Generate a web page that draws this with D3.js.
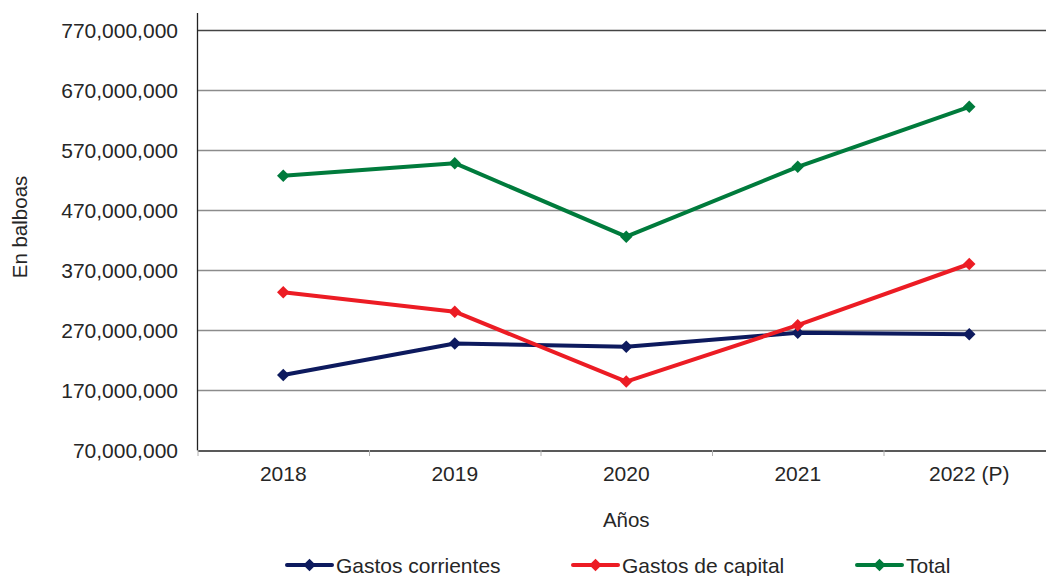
<!DOCTYPE html>
<html>
<head>
<meta charset="utf-8">
<script src="https://cdn.jsdelivr.net/npm/d3@7"></script>
<style>
  body { margin: 0; background: #fff; }
  text { font-family: "Liberation Sans", Arial, sans-serif; fill: #262626; }
</style>
</head>
<body>
<div id="chart"></div>
<script>
// Years and series (balboas)
const years = ["2018", "2019", "2020", "2021", "2022 (P)"];
const corrientes = [195000000, 247500000, 242000000, 265500000, 263000000];
const capital = [333000000, 300500000, 184000000, 278000000, 380000000];
const total = [527000000, 548000000, 425500000, 542000000, 642000000];
const yTicks = [70000000, 170000000, 270000000, 370000000, 470000000, 570000000, 670000000, 770000000];

const seriesNames = ["Gastos corrientes", "Gastos de capital", "Total"];
const seriesColors = ["#0d1a5e", "#ec1c24", "#007b3c"];
const seriesData = [corrientes, capital, total];

const width = 1046, height = 576;
const plotLeft = 197.5, plotRight = 1055, plotTop = 30, plotBottom = 450;

const svg = d3.select("#chart").append("svg")
    .attr("width", width)
    .attr("height", height);

const x = d3.scaleBand().domain(years).range([plotLeft, plotRight]);
const y = d3.scaleLinear().domain([70000000, 770000000]).range([plotBottom, plotTop]);

// gridlines
svg.append("g")
    .selectAll("line")
    .data(yTicks.slice(1))
    .join("line")
    .attr("x1", plotLeft)
    .attr("x2", plotRight)
    .attr("y1", d => Math.round(y(d)) + 0.5)
    .attr("y2", d => Math.round(y(d)) + 0.5)
    .attr("stroke", (d, i) => i === yTicks.length - 2 ? "#444" : "#8c8c8c")
    .attr("stroke-width", 1.3);

// y axis labels
const fmt = d3.format(",");
svg.append("g")
    .selectAll("text")
    .data(yTicks)
    .join("text")
    .attr("x", 178)
    .attr("y", d => y(d))
    .attr("dy", "0.36em")
    .attr("text-anchor", "end")
    .attr("font-size", "21px")
    .text(d => fmt(d));

// y axis line
svg.append("line")
    .attr("x1", plotLeft).attr("x2", plotLeft)
    .attr("y1", 13).attr("y2", plotBottom + 0.5)
    .attr("stroke", "#222").attr("stroke-width", 1.3);

// x axis
const xAxis = svg.append("g")
    .attr("transform", `translate(0,${plotBottom + 0.5})`)
    .call(d3.axisBottom(x).tickSize(0).tickPadding(16));
xAxis.select(".domain").attr("stroke", "#222").attr("stroke-width", 1.5);
xAxis.selectAll("text")
    .attr("font-size", "21px")
    .attr("font-family", "Liberation Sans, Arial, sans-serif")
    .attr("fill", "#262626");

// category separator ticks
svg.append("g")
    .selectAll("line")
    .data(years)
    .join("line")
    .attr("x1", d => x(d) + 0.5)
    .attr("x2", d => x(d) + 0.5)
    .attr("y1", plotBottom)
    .attr("y2", plotBottom + 6)
    .attr("stroke", "#b0b0b0")
    .attr("stroke-width", 1);

// axis titles
svg.append("text")
    .attr("transform", "translate(27,227) rotate(-90)")
    .attr("text-anchor", "middle")
    .attr("font-size", "20.5px")
    .text("En balboas");

svg.append("text")
    .attr("x", x(years[2]) + x.bandwidth() / 2)
    .attr("y", 527)
    .attr("text-anchor", "middle")
    .attr("font-size", "20.5px")
    .text("Años");

// lines + markers
const line = d3.line()
    .x((d, i) => x(years[i]) + x.bandwidth() / 2)
    .y(d => y(d));

const diamond = d3.symbol().type(d3.symbolDiamond2).size(100);

seriesData.forEach((vals, s) => {
    svg.append("path")
        .datum(vals)
        .attr("fill", "none")
        .attr("stroke", seriesColors[s])
        .attr("stroke-width", 4)
        .attr("stroke-linejoin", "round")
        .attr("d", line);

    svg.append("g")
        .selectAll("path")
        .data(vals)
        .join("path")
        .attr("transform", (d, i) => `translate(${x(years[i]) + x.bandwidth() / 2},${y(d)})`)
        .attr("d", diamond)
        .attr("fill", seriesColors[s]);
});

// legend
const legendX = [287, 573, 857];
const legend = svg.append("g")
    .selectAll("g")
    .data(seriesNames)
    .join("g")
    .attr("transform", (d, i) => `translate(${legendX[i]},565)`);

legend.append("line")
    .attr("x1", 0).attr("x2", 45)
    .attr("stroke", (d, i) => seriesColors[i])
    .attr("stroke-width", 4)
    .attr("stroke-linecap", "round");

legend.append("path")
    .attr("transform", "translate(22.5,0)")
    .attr("d", diamond)
    .attr("fill", (d, i) => seriesColors[i]);

legend.append("text")
    .attr("x", 49)
    .attr("dy", "0.36em")
    .attr("font-size", "21px")
    .text(d => d);
</script>
</body>
</html>
